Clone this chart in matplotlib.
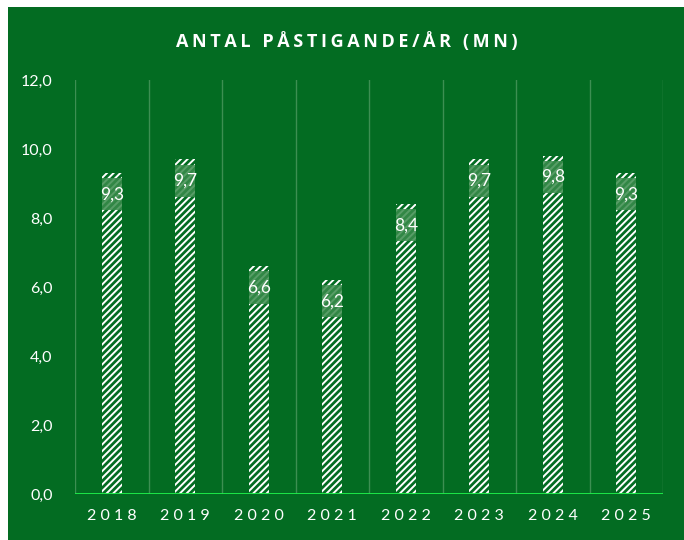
import numpy as np
import matplotlib.pyplot as plt
from matplotlib.patches import Rectangle

# Passengers per year (millions)
years = ["2018", "2019", "2020", "2021", "2022", "2023", "2024", "2025"]
values = [9.3, 9.7, 6.6, 6.2, 8.4, 9.7, 9.8, 9.3]
yticks = [0, 2, 4, 6, 8, 10, 12]

green = "#036c22"
plt.rcParams["font.family"] = ["Lato", "DejaVu Sans"]
plt.rcParams["hatch.color"] = "white"
plt.rcParams["hatch.linewidth"] = 1.4

fig = plt.figure(figsize=(6.84, 5.4), dpi=100, facecolor="white")
fig.patches.append(Rectangle((8/684, 0), 1, 533/540, transform=fig.transFigure,
                             facecolor=green, edgecolor="none", zorder=-5))

ax = fig.add_axes([75/684, 46/540, 588/684, 414/540])
ax.set_facecolor(green)
for s in ax.spines.values():
    s.set_visible(False)

x = np.arange(len(years))
w = 0.27
ax.bar(x, values, width=w, color=green, edgecolor="white", linewidth=0,
       hatch="/////", zorder=2)

# labels sit in a translucent box just under the top of each bar
box_h = 0.93
for xi, v in zip(x, values):
    top = v - 0.15
    ax.add_patch(Rectangle((xi - w/2, top - box_h), w, box_h,
                           facecolor="#3a8c4c", alpha=0.85, edgecolor="none", zorder=3))
    ax.text(xi, top - box_h/2, f"{v:.1f}".replace(".", ","), ha="center", va="center",
            color="white", fontsize=12.5, zorder=4)

ax.set_xlim(-0.5, len(years) - 0.5)
ax.set_ylim(0, 12)
ax.set_yticks(yticks)
ax.set_yticklabels([f"{t:.1f}".replace(".", ",") for t in yticks])
ax.set_xticks(x)
ax.set_xticklabels([" ".join(y) for y in years])
ax.tick_params(axis="both", length=0, colors="white", labelsize=11.5)
ax.tick_params(axis="y", pad=16)
ax.tick_params(axis="x", pad=11)

# separators between the years
for b in np.arange(-0.5, len(years)):
    ax.plot([b, b], [0, 12], color="#3d8f52", lw=1.0, zorder=1)
ax.axhline(0, color="#1ef04a", lw=1.3, zorder=5)

title = "ANTAL PÅSTIGANDE/ÅR (MN)"
fig.text(347/684, 1 - 42/540, "\u2009".join(title), ha="center", va="center",
         color="white", fontsize=13, fontweight="bold", family=["Open Sans", "DejaVu Sans"])

fig.savefig("out.png", dpi=100, facecolor="white")
